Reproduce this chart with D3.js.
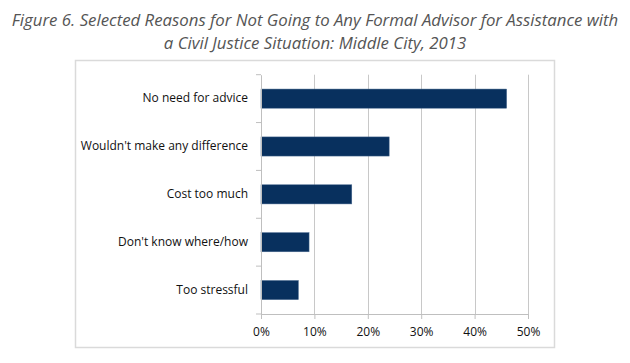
<!DOCTYPE html>
<html>
<head>
<meta charset="utf-8">
<script src="https://cdn.jsdelivr.net/npm/d3@7"></script>
<style>
body { margin: 0; background: #fff; }
</style>
</head>
<body>
<div id="chart"></div>
<script>
const reasons = ["No need for advice", "Wouldn't make any difference", "Cost too much", "Don't know where/how", "Too stressful"];
const shares = [46, 24, 17, 9, 7];
const xTicks = [0, 10, 20, 30, 40, 50];
const titleLines = ["Figure 6. Selected Reasons for Not Going to Any Formal Advisor for Assistance with",
    "a Civil Justice Situation: Middle City, 2013"];

function main(){
    let width = 630;
    let height = 363;

    let svg = d3.select("#chart").append("svg")
        .attr("width", width)
        .attr("height", height);

    // title
    svg.selectAll("text.title")
        .data(titleLines)
        .enter()
        .append("text")
        .attr("class", "title")
        .attr("x", 315)
        .attr("y", function(d, i){ return 26 + i * 23; })
        .attr("text-anchor", "middle")
        .attr("font-family", "'Open Sans', sans-serif")
        .attr("font-style", "italic")
        .attr("font-size", 16.8)
        .attr("fill", "#555")
        .text(function(d){ return d; });

    // chart frame
    svg.append("rect")
        .attr("x", 75.5)
        .attr("y", 60.5)
        .attr("width", 479)
        .attr("height", 287)
        .attr("fill", "white")
        .attr("stroke", "#dadada")
        .attr("stroke-width", 1.5);

    let left = 261, right = 528, top = 74.7, bottom = 314;

    let x = d3.scaleLinear().domain([0, 50]).range([left, right]);
    let y = d3.scaleBand().domain(reasons).range([top, bottom])
        .paddingInner(0.6).paddingOuter(0.3);

    // gridlines
    svg.append("g")
        .selectAll("line")
        .data(xTicks.slice(1))
        .enter()
        .append("line")
        .attr("x1", function(d){ return Math.round(x(d)) + 0.5; })
        .attr("x2", function(d){ return Math.round(x(d)) + 0.5; })
        .attr("y1", top)
        .attr("y2", bottom)
        .attr("stroke", "#c8c8c8")
        .attr("stroke-width", 1);

    // bars
    svg.append("g")
        .selectAll("rect")
        .data(shares)
        .enter()
        .append("rect")
        .attr("x", x(0))
        .attr("y", function(d, i){ return y(reasons[i]); })
        .attr("width", function(d){ return x(d) - x(0); })
        .attr("height", y.bandwidth())
        .attr("fill", "#08305e")
        .attr("stroke", "#4a6a90")
        .attr("stroke-width", 0.5);

    // x axis
    let xAxis = d3.axisBottom(x)
        .tickValues(xTicks)
        .tickFormat(function(d){ return d + "%"; })
        .tickSize(5)
        .tickPadding(8);

    let gx = svg.append("g")
        .attr("transform", "translate(0," + bottom + ")")
        .call(xAxis);
    gx.select(".domain").attr("stroke", "#bfbfbf");
    gx.selectAll(".tick line").attr("stroke", "#bfbfbf");
    gx.selectAll("text")
        .attr("font-family", "'Open Sans', sans-serif")
        .attr("font-size", 12)
        .attr("fill", "#111");

    // y axis
    let yAxis = d3.axisLeft(y)
        .tickSize(0)
        .tickPadding(13);

    let gy = svg.append("g")
        .attr("transform", "translate(" + left + ",0)")
        .call(yAxis);
    gy.select(".domain").attr("stroke", "#bfbfbf");
    gy.selectAll("text")
        .attr("font-family", "'Open Sans', sans-serif")
        .attr("font-size", 12)
        .attr("fill", "#111");

    // category boundary ticks on the y axis
    let step = y.step();
    svg.append("g")
        .selectAll("line")
        .data(d3.range(reasons.length + 1))
        .enter()
        .append("line")
        .attr("x1", left - 5)
        .attr("x2", left)
        .attr("y1", function(d){ return top + d * step; })
        .attr("y2", function(d){ return top + d * step; })
        .attr("stroke", "#bfbfbf");
}

main();
</script>
</body>
</html>
